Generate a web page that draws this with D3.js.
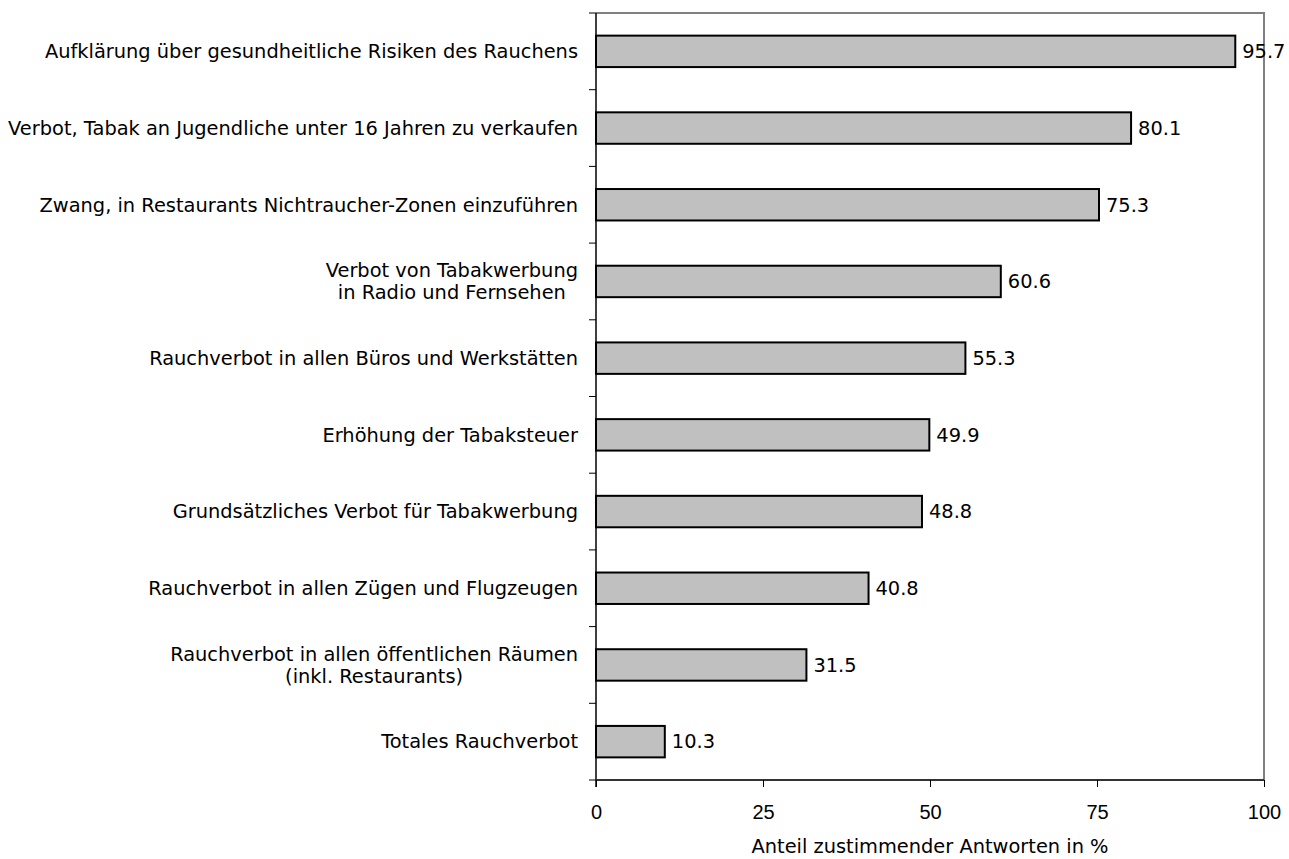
<!DOCTYPE html>
<html>
<head>
<meta charset="utf-8">
<script src="https://cdn.jsdelivr.net/npm/d3@7"></script>
<style>
body { margin: 0; background: #fff; }
text { font-family: "DejaVu Sans", sans-serif; fill: #000; }
</style>
</head>
<body>
<div id="graph"></div>
<script>
let categories = [
    ["Aufklärung über gesundheitliche Risiken des Rauchens"],
    ["Verbot, Tabak an Jugendliche unter 16 Jahren zu verkaufen"],
    ["Zwang, in Restaurants Nichtraucher-Zonen einzuführen"],
    ["Verbot von Tabakwerbung", "in Radio und Fernsehen"],
    ["Rauchverbot in allen Büros und Werkstätten"],
    ["Erhöhung der Tabaksteuer"],
    ["Grundsätzliches Verbot für Tabakwerbung"],
    ["Rauchverbot in allen Zügen und Flugzeugen"],
    ["Rauchverbot in allen öffentlichen Räumen", "(inkl. Restaurants)"],
    ["Totales Rauchverbot"]
];
let values = [95.7, 80.1, 75.3, 60.6, 55.3, 49.9, 48.8, 40.8, 31.5, 10.3];
let xTicks = [0, 25, 50, 75, 100];
let xTitle = "Anteil zustimmender Antworten in %";

let svg = d3.select("#graph").append("svg").attr("width", 1289).attr("height", 859);

let pLeft = 596, pRight = 1264, pTop = 13, pBottom = 780;
let fs = "19.4px";
let x = d3.scaleLinear().domain([0, 100]).range([pLeft, pRight]);
let y = d3.scaleBand().domain(d3.range(values.length)).range([pTop, pBottom]).paddingInner(0.59).paddingOuter(0.295);

// plot border (top & right, grey)
svg.append("path")
    .attr("d", "M" + pLeft + "," + pTop + "H" + pRight + "V" + pBottom)
    .attr("fill", "none").attr("stroke", "#808080").attr("stroke-width", 2);

// bars
svg.selectAll(".bar").data(values).enter().append("rect")
    .classed("bar", true)
    .attr("x", x(0))
    .attr("y", function(d, i) { return y(i); })
    .attr("width", function(d) { return x(d) - x(0); })
    .attr("height", y.bandwidth())
    .attr("fill", "#c0c0c0")
    .attr("stroke", "#000")
    .attr("stroke-width", 2);

// value labels
svg.selectAll(".val").data(values).enter().append("text")
    .classed("val", true)
    .attr("x", function(d) { return x(d) + 7; })
    .attr("y", function(d, i) { return y(i) + y.bandwidth() / 2; })
    .attr("dy", "0.35em")
    .style("font-size", fs)
    .text(function(d) { return d.toFixed(1); });

// y axis with ticks between categories
let step = (pBottom - pTop) / values.length;
let yTickPos = d3.range(values.length + 1).map(function(i) { return pTop + i * step; });
svg.append("line").attr("x1", pLeft).attr("x2", pLeft).attr("y1", pTop).attr("y2", pBottom + 7)
    .attr("stroke", "#000").attr("stroke-width", 1.5);
svg.selectAll(".ytick").data(yTickPos).enter().append("line")
    .attr("x1", pLeft - 7).attr("x2", pLeft)
    .attr("y1", function(d) { return d; }).attr("y2", function(d) { return d; })
    .attr("stroke", "#000").attr("stroke-width", 1);

// category labels
let labelRight = 578;
categories.forEach(function(lines, i) {
    let cy = y(i) + y.bandwidth() / 2;
    let lh = 22;
    let g = svg.append("g");
    let texts = lines.map(function(t, j) {
        return g.append("text")
            .attr("y", cy + (j - (lines.length - 1) / 2) * lh)
            .attr("dy", "0.35em")
            .style("font-size", fs)
            .text(t);
    });
    let widths = texts.map(function(t) { return t.node().getComputedTextLength(); });
    let maxW = d3.max(widths);
    texts.forEach(function(t) {
        t.attr("x", labelRight - maxW / 2).attr("text-anchor", "middle");
    });
});

// x axis
let xAxis = d3.axisBottom(x).tickValues(xTicks).tickSize(7).tickPadding(18).tickFormat(d3.format("d"));
let gx = svg.append("g").attr("transform", "translate(0," + pBottom + ")").call(xAxis);
gx.select(".domain").attr("stroke", "#333").attr("stroke-width", 2).attr("d", "M" + pLeft + ",0H" + pRight);
gx.selectAll(".tick line").attr("stroke", "#000");
gx.selectAll(".tick text").style("font-family", "'Liberation Sans', Arial, sans-serif").style("font-size", "20px").attr("fill", "#000");

svg.append("text")
    .attr("x", (pLeft + pRight) / 2)
    .attr("y", 846)
    .attr("dy", "0.35em")
    .attr("text-anchor", "middle")
    .style("font-size", fs)
    .text(xTitle);
</script>
</body>
</html>
